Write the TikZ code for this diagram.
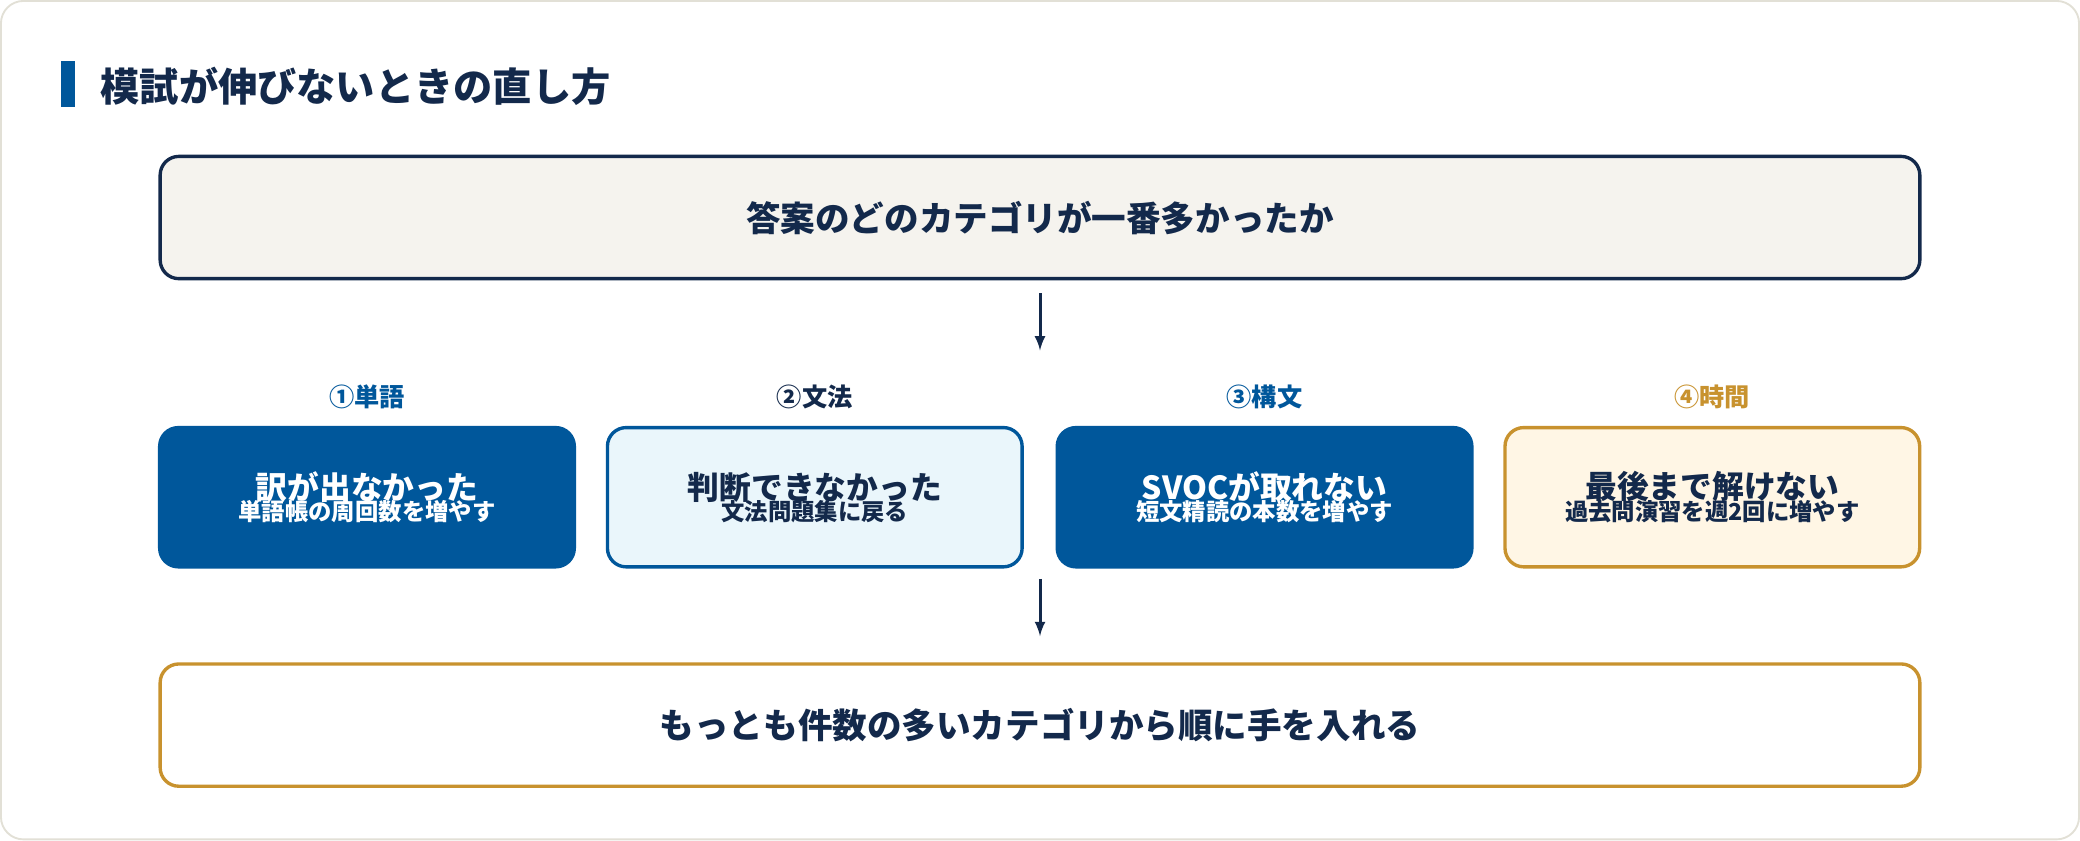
\documentclass[tikz,border=0pt]{standalone}
\usepackage{fontspec}
\setmainfont{Noto Sans CJK JP}
\usetikzlibrary{positioning}
\definecolor{navy}{HTML}{13294B}
\definecolor{blu}{HTML}{00579B}
\definecolor{gold}{HTML}{C8922E}
\definecolor{paper}{HTML}{F5F3EE}
\definecolor{ltblue}{HTML}{EAF6FB}
\definecolor{ltgold}{HTML}{FFF6E5}
\definecolor{edgegray}{HTML}{E2E0D6}
\newcommand{\stephead}{\bfseries\fontsize{17}{24}\selectfont}
\newcommand{\stepsub}{\bfseries\fontsize{12.5}{16}\selectfont}
\begin{document}
\begin{tikzpicture}[x=0.025cm,y=-0.025cm,
  wide box/.style={draw=navy,line width=1.8pt,rounded corners=10pt,minimum width=33.1cm,minimum height=2.3cm,font=\bfseries\fontsize{18.5}{22}\selectfont,text=navy},
  step box/.style={line width=1.8pt,rounded corners=10pt,minimum width=7.8cm,minimum height=2.62cm,align=center},
  tag/.style={font=\bfseries\fontsize{13.5}{16}\selectfont},
  flow/.style={-latex,draw=navy,line width=1.6pt}]

\draw[edgegray,line width=1pt,fill=white,rounded corners=12pt] (2,2) rectangle (1566,633);
\fill[blu] (47,47) rectangle (58,82);
\node[anchor=west,text=navy,font=\bfseries\fontsize{21}{24}\selectfont] (title) at (72,66) {模試が伸びないときの直し方};

\node[wide box,fill=paper] (top) at (784,165) {答案のどのカテゴリが一番多かったか};

\node[step box,fill=blu,draw=blu,text=white] (s1) at (277.5,375.5) {{\stephead 訳が出なかった}\\[-2pt]{\stepsub 単語帳の周回数を増やす}};
\node[step box,fill=ltblue,draw=blu,text=navy] (s2) at (614.5,375.5) {{\stephead 判断できなかった}\\[-2pt]{\stepsub 文法問題集に戻る}};
\node[step box,fill=blu,draw=blu,text=white] (s3) at (953,375.5) {{\stephead SVOCが取れない}\\[-2pt]{\stepsub 短文精読の本数を増やす}};
\node[step box,fill=ltgold,draw=gold,text=navy] (s4) at (1290,375.5) {{\stephead 最後まで解けない}\\[-2pt]{\stepsub 過去問演習を週2回に増やす}};

\node[tag,text=blu] (t1) at (277.5,300) {①単語};
\node[tag,text=navy] (t2) at (614.5,300) {②文法};
\node[tag,text=blu] (t3) at (953,300) {③構文};
\node[tag,text=gold] (t4) at (1290,300) {④時間};

\node[wide box,fill=white,draw=gold] (bot) at (784,547) {もっとも件数の多いカテゴリから順に手を入れる};

\coordinate (a1) at (784,222);
\coordinate (a2) at (784,265);
\coordinate (b1) at (784,437);
\coordinate (b2) at (784,480);
\draw[flow] (a1) -- (a2);
\draw[flow] (b1) -- (b2);
\end{tikzpicture}
\end{document}
